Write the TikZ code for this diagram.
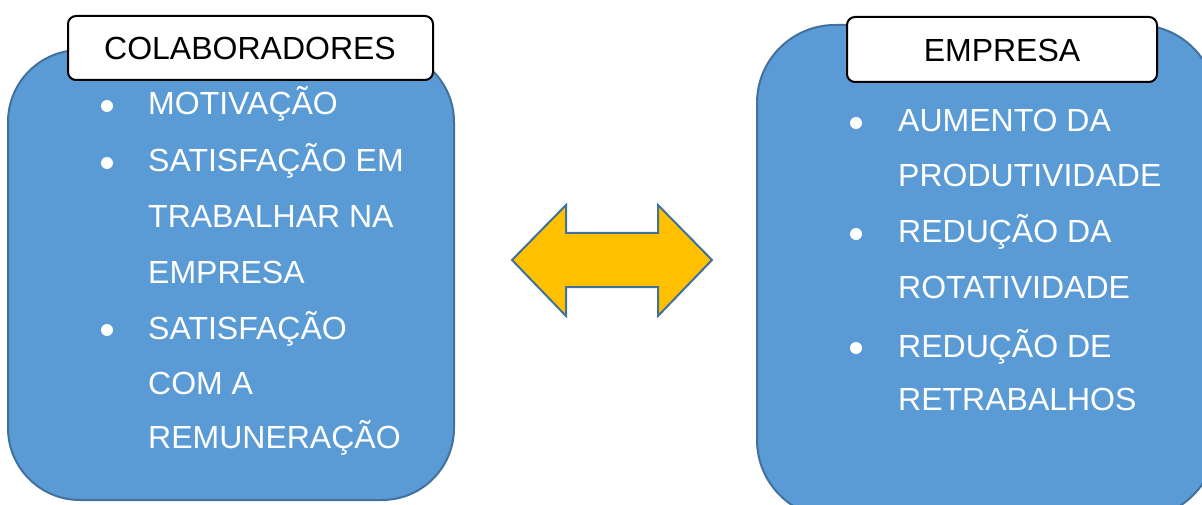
\documentclass[tikz,border=0pt]{standalone}
\usepackage{fontspec}
\setmainfont{Liberation Sans}
\definecolor{boxblue}{HTML}{5B9BD5}
\definecolor{edgeblue}{HTML}{41719C}
\definecolor{gold}{HTML}{FFC000}
\begin{document}
\begin{tikzpicture}[x=1pt,y=-1pt,
  panel/.style={fill=boxblue,draw=edgeblue,line width=2pt,rounded corners=72pt},
  titlebox/.style={fill=white,draw=black,line width=2pt,rounded corners=8pt},
  heading/.style={anchor=base,inner sep=0pt,text=black,font=\fontsize{32}{38}\selectfont},
  item/.style={anchor=base west,inner sep=0pt,text=white,font=\fontsize{32}{38}\selectfont},
  dot/.style={circle,fill=white,inner sep=0pt,minimum size=12pt}]
\useasboundingbox (0,0) rectangle (1202,505);
\clip (0,0) rectangle (1202,505);

% left panel: collaborators
\draw[panel] (8,50) rectangle (454,500);
\draw[titlebox] (68,16) rectangle (433,80);
\node[heading] (colab) at (250,60) {COLABORADORES};
\node[dot] (b1) at (107,106) {};
\node[item] (l1) at (148,115) {MOTIVAÇÃO};
\node[dot] (b2) at (107,163) {};
\node[item] (l2) at (148,172) {SATISFAÇÃO EM};
\node[item] (l3) at (148,228) {TRABALHAR NA};
\node[item] (l4) at (148,283) {EMPRESA};
\node[dot] (b3) at (107,330) {};
\node[item] (l5) at (148,339) {SATISFAÇÃO};
\node[item] (l6) at (148,394) {COM A};
\node[item] (l7) at (148,448) {REMUNERAÇÃO};

% double arrow between the panels
\draw[fill=gold,draw=edgeblue,line width=2pt,line join=miter]
  (512,260) -- (566,205) -- (566,233) -- (658,233) -- (658,205)
  -- (712,260) -- (658,316) -- (658,287) -- (566,287) -- (566,316) -- cycle;

% right panel: company
\draw[panel,rounded corners=78pt] (757,25) rectangle (1216,518);
\draw[titlebox] (847,17) rectangle (1157,82);
\node[heading] (emp) at (1002,62) {EMPRESA};
\node[dot] (r1) at (856,123) {};
\node[item] (m1) at (898,132) {AUMENTO DA};
\node[item] (m2) at (898,187) {PRODUTIVIDADE};
\node[dot] (r2) at (856,234) {};
\node[item] (m3) at (898,243) {REDUÇÃO DA};
\node[item] (m4) at (898,298) {ROTATIVIDADE};
\node[dot] (r3) at (856,348) {};
\node[item] (m5) at (898,357) {REDUÇÃO DE};
\node[item] (m6) at (898,410) {RETRABALHOS};
\end{tikzpicture}
\end{document}
